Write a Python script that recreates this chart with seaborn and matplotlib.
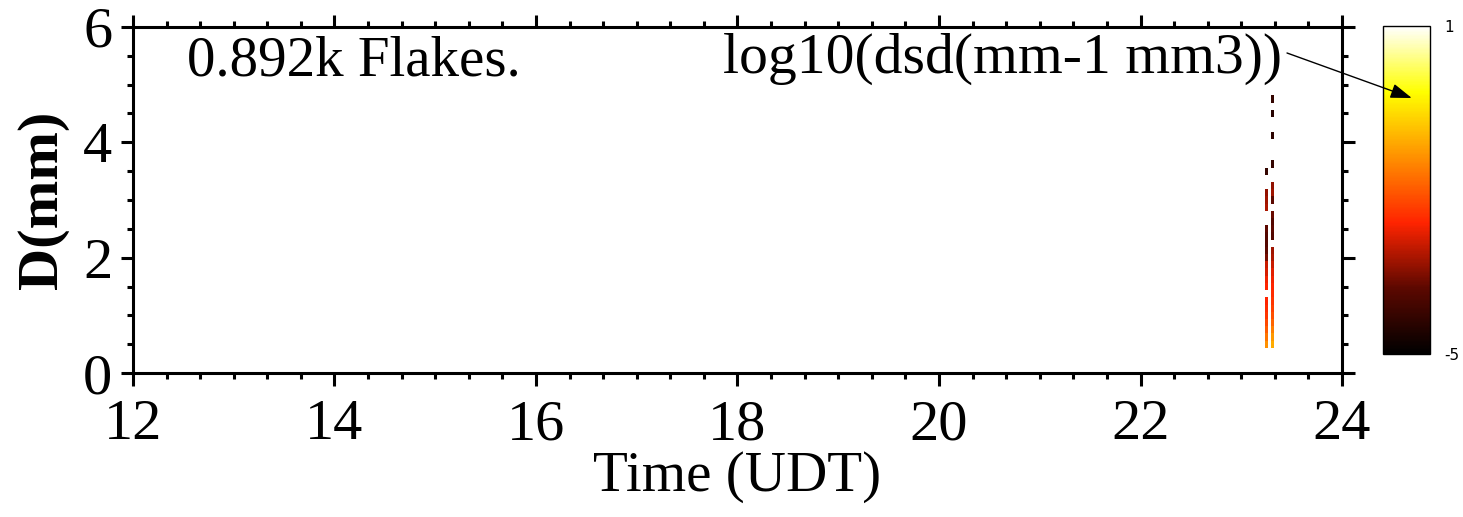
import numpy as np
import matplotlib
matplotlib.use("Agg")
import matplotlib.pyplot as plt
import seaborn as sns
from matplotlib.ticker import MultipleLocator

# ---------------- data ----------------
# time bin centres (hours UDT); middle bin is empty
time_centers = [23.251, 23.281, 23.311]
time_width = 0.03
# diameter bin centres (mm)
d_centers = [0.5 + 0.125 * i for i in range(35)]
d_width = 0.125
nan = np.nan
# log10(dsd) values per diameter bin, first time bin
col_a = [-1.4, -1.7, -2.0, -2.2, -2.4, -2.5, -2.6, nan, -2.6, -2.7, -2.9, -3.0,
         -3.6, -3.8, -3.9, -3.9, -3.8, nan, nan, -3.2, -3.3, -3.4, nan, nan,
         -4.3, nan, nan, nan, nan, nan, nan, nan, nan, nan, nan]
col_mid = [nan] * 35
# last time bin
col_b = [-1.1, -1.3, -1.6, -1.9, -2.1, -2.3, -2.4, -2.5, -2.6, -2.7, -2.8, -3.0,
         -3.2, -3.3, nan, -3.9, -3.8, -3.9, -3.7, nan, -3.8, -3.3, -3.4, nan,
         nan, -4.3, nan, nan, nan, -4.4, nan, nan, -4.5, nan, -4.3]
vmin, vmax = -5, 1
n_flakes_text = "0.892k Flakes."
cbar_title = "log10(dsd(mm-1 mm3))"
x_ticks = [12, 14, 16, 18, 20, 22, 24]
y_ticks = [0, 2, 4, 6]

# ---------------- style ----------------
sns.set_style("ticks")
plt.rcParams['font.family'] = ['Liberation Serif', 'DejaVu Serif']
plt.rcParams['text.color'] = 'black'
plt.rcParams['axes.labelcolor'] = 'black'
plt.rcParams['xtick.color'] = 'black'
plt.rcParams['ytick.color'] = 'black'
plt.rcParams['axes.edgecolor'] = 'black'

cmap = sns.blend_palette(["#000000", "#5c0800", "#ff2400", "#ff9000",
                          "#ffff00", "#ffffff"], as_cmap=True)

fig = plt.figure(figsize=(14.63, 5.17), dpi=100)
ax = fig.add_axes([0.0909, 0.2785, 0.8264, 0.6693])

Z = np.ma.masked_invalid(np.array([col_a, col_mid, col_b]).T)
t_edges = np.concatenate([[time_centers[0] - time_width / 2],
                          np.array(time_centers) + time_width / 2])
d_edges = np.concatenate([[d_centers[0] - d_width / 2],
                          np.array(d_centers) + d_width / 2])
mesh = ax.pcolormesh(t_edges, d_edges, Z, cmap=cmap, vmin=vmin, vmax=vmax,
                     shading='flat')

ax.set_xlim(12, 24)
ax.set_ylim(0, 6)
ax.set_xticks(x_ticks)
ax.set_yticks(y_ticks)
ax.xaxis.set_minor_locator(MultipleLocator(1 / 3))
ax.yaxis.set_minor_locator(MultipleLocator(0.5))
ax.tick_params(which='both', direction='out', top=True, right=True,
               width=2.2, color='black', labelsize=42, labelcolor='black')
ax.tick_params(which='major', length=9)
ax.tick_params(which='minor', length=4)
ax.tick_params(axis='x', which='major', pad=10)
ax.tick_params(axis='y', which='major', pad=6)
for s in ax.spines.values():
    s.set_linewidth(2.2)
    s.set_color('black')

ax.set_xlabel("Time (UDT)", fontsize=41, labelpad=0)
ax.set_ylabel("D(mm)", fontsize=42, fontweight='bold', labelpad=10)

ax.text(0.0447, 0.861, n_flakes_text, transform=ax.transAxes,
        fontsize=41, ha='left', va='baseline', color='black')
ax.text(0.9504, 0.868, cbar_title, transform=ax.transAxes,
        fontsize=41.5, ha='right', va='baseline', color='black')

# ---------------- colourbar ----------------
cax = fig.add_axes([0.9453, 0.3153, 0.0321, 0.6344])
cb = fig.colorbar(mesh, cax=cax)
cb.set_ticks([vmin, vmax])
cb.set_ticklabels([str(vmin), str(vmax)])
cax.tick_params(length=0, labelsize=11, pad=10, labelcolor='black')
for lab in cax.get_yticklabels():
    lab.set_family('DejaVu Sans')
cb.outline.set_linewidth(1.0)

cax.annotate("", xy=(0.965, 0.8104), xycoords='figure fraction',
             xytext=(0.8797, 0.8975), textcoords='figure fraction',
             arrowprops=dict(arrowstyle='-|>,head_length=1.3,head_width=0.45',
                             lw=1.0, color='black', shrinkA=0, shrinkB=0),
             annotation_clip=False, zorder=20)

fig.savefig("out.png", dpi=100)
